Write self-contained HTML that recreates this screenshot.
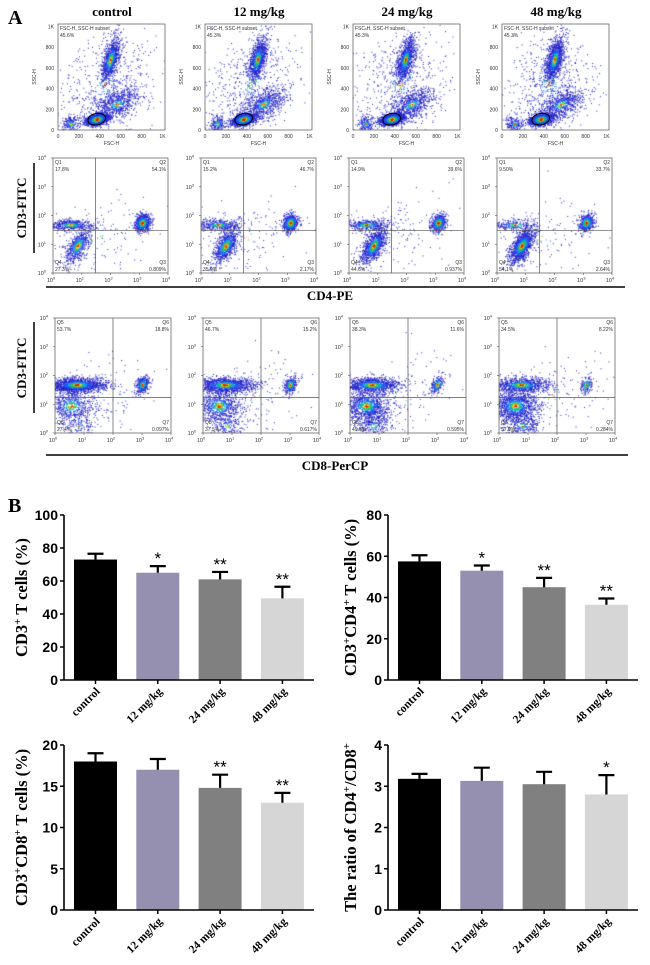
<!DOCTYPE html>
<html><head><meta charset="utf-8"><style>
html,body{margin:0;padding:0;background:#fff;}
#wrap{position:relative;width:650px;height:965px;overflow:hidden;}
canvas,svg{position:absolute;left:0;top:0;}
</style></head><body>
<div id="wrap">
<canvas id="cv" width="650" height="965"></canvas>
<svg id="sv" width="650" height="965" xmlns="http://www.w3.org/2000/svg"></svg>
</div>
<script>
// ---------- data ----------
const groups = ["control","12 mg/kg","24 mg/kg","48 mg/kg"];
const subsetPct = ["45.6%","45.3%","45.3%","45.3%"];
const q1 = ["17.8%","15.2%","14.9%","9.50%"];
const q2 = ["54.1%","46.7%","39.6%","33.7%"];
const q3 = ["0.809%","2.17%","0.937%","2.64%"];
const q4 = ["27.3%","35.9%","44.6%","54.1%"];
const q5 = ["53.7%","46.7%","38.3%","34.5%"];
const q6 = ["18.8%","15.2%","11.6%","8.22%"];
const q7 = ["0.097%","0.617%","0.595%","0.284%"];
const q8 = ["27.4%","37.5%","49.5%","57.0%"];
const cd3Values = [73, 65, 61, 49.5];
const cd3Errors = [3.5, 4, 4.5, 7];
const cd3Stars = ["", "*", "**", "**"];
const cd4Values = [57.5, 53, 45, 36.5];
const cd4Errors = [3, 2.5, 4.5, 3];
const cd4Stars = ["", "*", "**", "**"];
const cd8Values = [18, 17, 14.8, 13];
const cd8Errors = [1, 1.3, 1.6, 1.2];
const cd8Stars = ["", "", "**", "**"];
const ratioValues = [3.18, 3.13, 3.05, 2.8];
const ratioErrors = [0.12, 0.32, 0.3, 0.47];
const ratioStars = ["", "", "", "*"];
const barColors = ["#000000","#9690b0","#808080","#d6d6d6"];

const NS = "http://www.w3.org/2000/svg";
const sv = document.getElementById('sv');
const ctx = document.getElementById('cv').getContext('2d');
function el(tag, attrs, parent, text){
  const e = document.createElementNS(NS, tag);
  for (const k in attrs) e.setAttribute(k, attrs[k]);
  if (text !== undefined) e.textContent = text;
  (parent || sv).appendChild(e);
  return e;
}
let seed = 12345;
function rnd(){ seed |= 0; seed = seed + 0x6D2B79F5 | 0; let t = Math.imul(seed ^ seed >>> 15, 1 | seed); t = t + Math.imul(t ^ t >>> 7, 61 | t) ^ t; return ((t ^ t >>> 14) >>> 0) / 4294967296; }
function gauss(){ let u = rnd() || 1e-9, v = rnd(); return Math.sqrt(-2*Math.log(u))*Math.cos(2*Math.PI*v); }
function colorFor(r){
  if (r < 0.22) return "#e02010";
  if (r < 0.38) return "#f0c000";
  if (r < 0.6) return "#30c050";
  if (r < 0.9) return "#10a8c8";
  if (r < 1.4) return "#2050f0";
  return "#2424c8";
}
function cloud(pts, mapX, mapY, cx, cy, sx, sy, n, rho, sparse){
  for (let i=0;i<n;i++){
    const a = gauss(), b = gauss();
    const dx = a, dy = rho*a + Math.sqrt(1-rho*rho)*b;
    const r = Math.sqrt(a*a+b*b) * (sparse||1);
    pts.push([mapX(cx+dx*sx), mapY(cy+dy*sy), r]);
  }
}
function drawPts(pts, box){
  pts.sort((p,q)=>q[2]-p[2]);
  ctx.save(); ctx.beginPath(); ctx.rect(box[0],box[1],box[2],box[3]); ctx.clip();
  for (const p of pts){ ctx.fillStyle = colorFor(p[2]); ctx.fillRect(p[0], p[1], 1, 1); }
  ctx.restore();
}

el('text',{x:8,y:24,'font-family':'Liberation Serif, serif','font-size':20,'font-weight':'bold',},sv,'A');
el('text',{x:8,y:512,'font-family':'Liberation Serif, serif','font-size':20,'font-weight':'bold',},sv,'B');

const topX = [58,205,353,502];
const midX = [53,201,349,497];
const botX = [55,203,350,499];

function logTicks(g, x0, y0, w, h){
  for (let i=0;i<=4;i++){
    const tx = x0 + w*i/4, ty = y0 + h - h*i/4;
    el('line',{x1:tx,y1:y0+h,x2:tx,y2:y0+h+2,stroke:'#555','stroke-width':0.6},g);
    el('line',{x1:x0-2,y1:ty,x2:x0,y2:ty,stroke:'#555','stroke-width':0.6},g);
    const t1 = el('text',{x:tx-2,y:y0+h+9,'font-size':5.5,'font-family':'Liberation Sans, sans-serif',fill:'#333','text-anchor':'middle'},g,'10');
    el('tspan',{dy:-2.5,'font-size':4},t1,String(i));
    const t2 = el('text',{x:x0-7,y:ty+2,'font-size':5.5,'font-family':'Liberation Sans, sans-serif',fill:'#333','text-anchor':'end'},g,'10');
    el('tspan',{dy:-2.5,'font-size':4},t2,String(i));
  }
}

for (let k=0;k<4;k++){
  const tt = el('text',{x:topX[k]+54,y:16,'text-anchor':'middle','font-family':'Liberation Serif, serif','font-size':13,'font-weight':'bold'},sv,groups[k]);
  
  
  const x0 = topX[k], y0 = 24, w = 107, h = 106;
  const g = el('g',{},sv);
  
  
  const mx = v => x0 + w*v/1024, my = v => y0 + h - h*v/1024;
  const pts = [];
  cloud(pts,mx,my,370,105,55,28,1400,0.3,1.0);
  cloud(pts,mx,my,500,680,45,110,900+k*80,0.55,1.5);
  cloud(pts,mx,my,560,250,110,80,700,0.5,2.2);
  cloud(pts,mx,my,450,450,230,250,500,0.2,3);
  cloud(pts,mx,my,120,60,40,40,200,0,1.8);
  drawPts(pts,[x0,y0,w,h]);
  el('rect',{x:x0,y:y0,width:w,height:h,fill:'none',stroke:'#555','stroke-width':0.7},g);
  el('ellipse',{cx:mx(370),cy:my(105),rx:w*85/1024,ry:h*55/1024,fill:'none',stroke:'#000','stroke-width':1,transform:`rotate(-12 ${mx(370)} ${my(105)})`},g);
  const tl = ['0','200','400','600','800','1K'];
  for (let i=0;i<6;i++){
    const v=[0,200,400,600,800,1000][i];
    el('text',{x:mx(v),y:y0+h+8,'font-size':5,'text-anchor':'middle','font-family':'Liberation Sans, sans-serif',fill:'#333'},g,tl[i]);
    el('text',{x:x0-4,y:my(v)+2,'font-size':5,'text-anchor':'end','font-family':'Liberation Sans, sans-serif',fill:'#333'},g,tl[i]);
  }
  el('text',{x:x0+w/2,y:y0+h+15,'font-size':5,'text-anchor':'middle','font-family':'Liberation Sans, sans-serif',fill:'#333'},g,'FSC-H');
  el('text',{x:x0-22,y:y0+h/2,'font-size':5,'text-anchor':'middle','font-family':'Liberation Sans, sans-serif',fill:'#333',transform:`rotate(-90 ${x0-22} ${y0+h/2})`},g,'SSC-H');
  el('text',{x:x0+2,y:y0+6,'font-size':5,'font-family':'Liberation Sans, sans-serif',fill:'#333'},g,'FSC-H, SSC-H subset');
  el('text',{x:x0+2,y:y0+13,'font-size':5,'font-family':'Liberation Sans, sans-serif',fill:'#333'},g,subsetPct[k]);

  for (let row=0; row<2; row++){
    const bx = row===0 ? midX[k] : botX[k];
    const by = row===0 ? 158 : 318;
    const bw = row===0 ? 115 : 116, bh = 115;
    const gq = el('g',{},sv);
    
    
    const qx = v => bx + bw*v/4, qy = v => by + bh - bh*v/4;
    const p = [];
    const pr = row===0 ? [parseFloat(q1[k]),parseFloat(q2[k]),parseFloat(q4[k])] : [parseFloat(q5[k]),parseFloat(q6[k]),parseFloat(q8[k])];
    if (row===0){
      cloud(p,qx,qy,3.1,1.75,0.13,0.15,Math.round(pr[1]*14),0.2,1.0);
      cloud(p,qx,qy,0.6,1.68,0.4,0.1,Math.round(pr[0]*28),0,1.6);
      cloud(p,qx,qy,0.85,0.95,0.22,0.3,Math.round(pr[2]*22),0.6,1.3);
      cloud(p,qx,qy,1.5,1.2,1.0,0.7,150,0.3,3);
    } else {
      cloud(p,qx,qy,0.75,1.68,0.5,0.13,Math.round(pr[0]*28),0,1.4);
      cloud(p,qx,qy,3.0,1.68,0.11,0.15,Math.round(pr[1]*20),0.3,1.2);
      cloud(p,qx,qy,0.55,0.95,0.4,0.28,Math.round(pr[2]*22),0,1.5);
      cloud(p,qx,qy,0.8,0.25,0.3,0.25,Math.round(pr[2]*6),0,2.5);
      cloud(p,qx,qy,1.8,1.3,1.0,0.8,120,0.2,3);
    }
    drawPts(p,[bx,by,bw,bh]);
    el('rect',{x:bx,y:by,width:bw,height:bh,fill:'none',stroke:'#555','stroke-width':0.7},gq);
    const vx = row===0 ? bx+bw*0.37 : bx+bw*0.5;
    const hy = row===0 ? by+bh*0.63 : by+bh*0.69;
    el('line',{x1:vx,y1:by,x2:vx,y2:by+bh,stroke:'#555','stroke-width':0.7},gq);
    el('line',{x1:bx,y1:hy,x2:bx+bw,y2:hy,stroke:'#555','stroke-width':0.7},gq);
    logTicks(gq,bx,by,bw,bh);
    const names = row===0 ? ['Q1','Q2','Q3','Q4'] : ['Q5','Q6','Q7','Q8'];
    const vals = row===0 ? [q1[k],q2[k],q3[k],q4[k]] : [q5[k],q6[k],q7[k],q8[k]];
    const fs = {'font-size':5,'font-family':'Liberation Sans, sans-serif',fill:'#333'};
    el('text',Object.assign({x:bx+2,y:by+6},fs),gq,names[0]);
    el('text',Object.assign({x:bx+2,y:by+13},fs),gq,vals[0]);
    el('text',Object.assign({x:bx+bw-2,y:by+6,'text-anchor':'end'},fs),gq,names[1]);
    el('text',Object.assign({x:bx+bw-2,y:by+13,'text-anchor':'end'},fs),gq,vals[1]);
    el('text',Object.assign({x:bx+bw-2,y:by+bh-9,'text-anchor':'end'},fs),gq,names[2]);
    el('text',Object.assign({x:bx+bw-2,y:by+bh-2,'text-anchor':'end'},fs),gq,vals[2]);
    el('text',Object.assign({x:bx+2,y:by+bh-9},fs),gq,names[3]);
    el('text',Object.assign({x:bx+2,y:by+bh-2},fs),gq,vals[3]);
  }
}
for (const r of [{y:208,l1:163,l2:253,name:'cd3-fitc-label-row1'},{y:368,l1:322,l2:413,name:'cd3-fitc-label-row2'}]){
  const t = el('text',{x:26,y:r.y,'text-anchor':'middle','font-family':'Liberation Serif, serif','font-size':13,'font-weight':'bold',transform:`rotate(-90 26 ${r.y})`},sv,'CD3-FITC');
  
  
  el('line',{x1:34,y1:r.l1,x2:34,y2:r.l2,stroke:'#000','stroke-width':1.5},sv);
}
el('line',{x1:46,y1:287,x2:625,y2:287,stroke:'#000','stroke-width':1.5},sv);
const xl1 = el('text',{x:330,y:300,'text-anchor':'middle','font-family':'Liberation Serif, serif','font-size':13,'font-weight':'bold'},sv,'CD4-PE');


el('line',{x1:46,y1:455,x2:628,y2:455,stroke:'#000','stroke-width':1.5},sv);
const xl2 = el('text',{x:335,y:470,'text-anchor':'middle','font-family':'Liberation Serif, serif','font-size':13,'font-weight':'bold'},sv,'CD8-PerCP');



function barChart(o){
  const g = el('g',{},sv);
  
  
  const yS = v => o.bottom - (o.bottom - o.top) * v / o.max;
  const xS = i => o.axisX + 10 + i*62.3;
  const bw = 43;
  o.values.forEach((v,i)=>{
    const x = xS(i);
    const b = el('rect',{x:x,y:yS(v),width:bw,height:o.bottom-yS(v),fill:barColors[i]},g);
    
    
    const cx = x + bw/2, ty = yS(v + o.errors[i]);
    const e = el('path',{d:`M${cx} ${yS(v)} V${ty} M${cx-8} ${ty} H${cx+8}`,stroke:'#000','stroke-width':2.2,fill:'none'},g);
    
    
    if (o.stars[i]){
      const s = el('text',{x:cx,y:ty-2,'text-anchor':'middle','font-family':'Liberation Sans, sans-serif','font-size':17},g,o.stars[i]);
      
      
    }
    el('line',{x1:cx,y1:o.bottom,x2:cx,y2:o.bottom+4,stroke:'#000','stroke-width':1.5},g);
    const lx = cx+5, ly = o.bottom+12;
    const lab = el('text',{x:lx,y:ly,'text-anchor':'end','font-family':'Liberation Serif, serif','font-size':11.5,'font-weight':'bold',transform:`rotate(-45 ${lx} ${ly})`},g,groups[i]);
    
    
  });
  el('line',{x1:o.axisX,y1:o.top,x2:o.axisX,y2:o.bottom,stroke:'#000','stroke-width':1.6},g);
  el('line',{x1:o.axisX,y1:o.bottom,x2:o.axisX+250,y2:o.bottom,stroke:'#000','stroke-width':1.6},g);
  o.ticks.forEach(t=>{
    el('line',{x1:o.axisX-4,y1:yS(t),x2:o.axisX,y2:yS(t),stroke:'#000','stroke-width':1.5},g);
    const tl = el('text',{x:o.axisX-6,y:yS(t)+5,'text-anchor':'end','font-family':'Liberation Sans, sans-serif','font-size':14,'font-weight':'bold'},g,String(t));
    
    
  });
  const my = (o.top+o.bottom)/2, tx = o.titleX;
  const ti = el('text',{x:tx,y:my,'text-anchor':'middle','font-family':'Liberation Serif, serif','font-size':16.5,'font-weight':'bold',transform:`rotate(-90 ${tx} ${my})`},g);
  
  
  o.title.forEach(part=>{
    if (part[1]) { el('tspan',{dy:-6,'font-size':11},ti,part[0]); }
    else { el('tspan',{dy:part[2]||0},ti,part[0]); }
  });
}
barChart({name:'cd3-chart',key:'cd3',axisX:64,top:515,bottom:680,max:100,ticks:[0,20,40,60,80,100],values:cd3Values,errors:cd3Errors,stars:cd3Stars,titleX:27,
  title:[['CD3'],['+',true],[' T cells (%)',false,6]]});
barChart({name:'cd4-chart',key:'cd4',axisX:388,top:515,bottom:680,max:80,ticks:[0,20,40,60,80],values:cd4Values,errors:cd4Errors,stars:cd4Stars,titleX:356,
  title:[['CD3'],['+',true],['CD4',false,6],['+',true],[' T cells (%)',false,6]]});
barChart({name:'cd8-chart',key:'cd8',axisX:64,top:745,bottom:910,max:20,ticks:[0,5,10,15,20],values:cd8Values,errors:cd8Errors,stars:cd8Stars,titleX:27,
  title:[['CD3'],['+',true],['CD8',false,6],['+',true],[' T cells (%)',false,6]]});
barChart({name:'ratio-chart',key:'ratio',axisX:388,top:745,bottom:910,max:4,ticks:[0,1,2,3,4],values:ratioValues,errors:ratioErrors,stars:ratioStars,titleX:356,
  title:[['The ratio of CD4'],['+',true],['/CD8',false,6],['+',true]]});
</script>
</body></html>
